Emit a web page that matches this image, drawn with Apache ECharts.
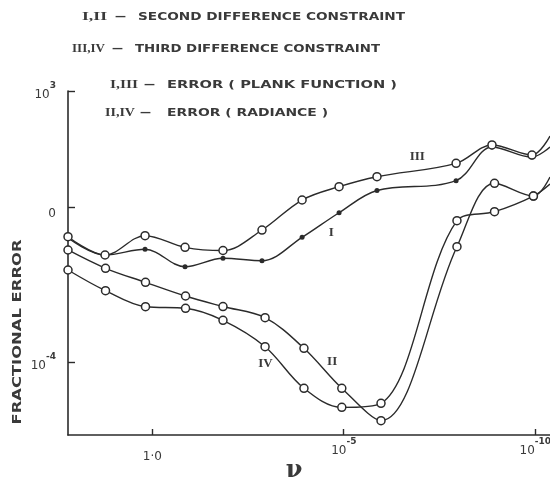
<!DOCTYPE html>
<html><head><meta charset="utf-8">
<script src="https://cdn.jsdelivr.net/npm/echarts@6/dist/echarts.min.js"></script>
<style>html,body{margin:0;padding:0;background:#fff}#c{width:550px;height:486px}</style>
</head><body><div id="c"></div>
<script>
// frequency (log scale, decreasing to the right)
const xPlank    = [158.5, 17.1, 1.54, 0.139, 0.0142, 1.36e-3, 1.22e-4, 1.32e-5, 1.35e-6, 1.16e-8, 1.34e-9, 1.21e-10, 4.09e-11];
const xRadiance = [158.5, 16.6, 1.50, 0.135, 0.0142, 1.13e-3, 1.09e-4, 1.12e-5, 1.06e-6, 1.10e-8, 1.15e-9, 1.11e-10, 4.09e-11];
// fractional error
const curveI   = [0.161, 0.0587, 0.0824, 0.0293, 0.0483, 0.0419, 0.168, 0.724, 2.71, 4.85, 35.9, 19.8, 35.9];
const curveIII = [0.174, 0.0587, 0.185, 0.0927, 0.0767, 0.259, 1.54, 3.40, 6.15, 13.6, 40.5, 22.3, 69.0];
const curveII  = [0.0791, 0.0267, 0.0116, 0.00514, 0.00275, 0.00142, 2.30e-4, 2.14e-5, 3.12e-6, 0.0962, 4.16, 1.95, 6.04];
const curveIV  = [0.0241, 0.00705, 0.00272, 0.00248, 0.00121, 2.53e-4, 2.14e-5, 6.90e-6, 8.77e-6, 0.451, 0.769, 1.95, 3.99];
// ticks
const xTicks = [1, 1e-5, 1e-10];
const xTickLabels = ['1·0', '10|-5', '10|-10'];
const yTicks = [1000, 1, 1e-4];
const yTickLabels = ['10|3', '0', '10|-4'];
// curve labels
const curveNames = ['III', 'I', 'IV', 'II'];
const curveLabelX = [1.2e-7, 2.1e-5, 1.1e-3, 2.0e-5];
const curveLabelY = [19.8, 0.217, 9.06e-5, 1.02e-4];
// header text
const headNums = ['I,II', 'III,IV', 'I,III', 'II,IV'];
const headTexts = ['SECOND DIFFERENCE CONSTRAINT', 'THIRD DIFFERENCE CONSTRAINT', 'ERROR ( PLANK FUNCTION )', 'ERROR ( RADIANCE )'];
const yName = 'FRACTIONAL ERROR';
const xName = 'ν';

const INK = '#2b2b2b';
const TXT = '#3a3a3a';
const chart = echarts.init(document.getElementById('c'));

function mk(xs, ys) {
  return xs.map((x, i) => i === xs.length - 1 ? {value: [x, ys[i]], symbol: 'none'} : [x, ys[i]]);
}
function fmt(labels, ticks) {
  return function (v) {
    let k = 0, best = 1e9;
    ticks.forEach((t, i) => { const d = Math.abs(Math.log10(t) - Math.log10(v)); if (d < best) { best = d; k = i; } });
    const s = labels[k];
    if (s.indexOf('|') >= 0) { const p = s.split('|'); return '{z| }{b|' + p[0] + '}{s|' + p[1] + '}'; }
    return '{z2| }{b|' + s + '}';
  };
}
const rich = {
  z: {fontSize: 1, lineHeight: 20},
  z2: {fontSize: 1, lineHeight: 26},
  b: {fontSize: 12, fontFamily: 'DejaVu Sans', color: TXT, lineHeight: 12, verticalAlign: 'bottom'},
  s: {fontSize: 9, fontWeight: 'bold', fontFamily: 'DejaVu Sans', color: TXT, lineHeight: 10, verticalAlign: 'top'}
};
const lineSeries = (name, xs, ys, filled) => ({
  name, type: 'line', smooth: 0.35, data: mk(xs, ys),
  symbol: 'circle', symbolSize: filled ? 5 : 8,
  itemStyle: filled ? {color: INK} : {color: '#fff', borderColor: INK, borderWidth: 1.5},
  lineStyle: {color: INK, width: 1.4}, emphasis: {disabled: true}
});

chart.setOption({
  animation: false,
  backgroundColor: '#fff',
  grid: {left: 68, right: 0, top: 91, bottom: 51, containLabel: false, outerBoundsMode: 'none'},
  xAxis: {
    type: 'log', logBase: 10, inverse: true, min: 4.09e-11, max: 158.5,
    axisLine: {lineStyle: {color: INK, width: 1.6}},
    axisTick: {inside: true, length: 6, customValues: xTicks, lineStyle: {color: INK, width: 1.4}},
    axisLabel: {customValues: xTicks, margin: 2, formatter: fmt(xTickLabels, xTicks), rich},
    splitLine: {show: false}, minorTick: {show: false}
  },
  yAxis: {
    type: 'log', logBase: 10, min: 1.334e-6, max: 1000,
    axisLine: {show: true, lineStyle: {color: INK, width: 1.6}},
    axisTick: {show: true, inside: true, length: 7, customValues: yTicks, lineStyle: {color: INK, width: 1.4}},
    axisLabel: {customValues: yTicks, margin: 12, formatter: fmt(yTickLabels, yTicks), rich},
    splitLine: {show: false}, minorTick: {show: false}
  },
  series: [
    lineSeries('I', xPlank, curveI, true),
    lineSeries('III', xPlank, curveIII, false),
    lineSeries('II', xRadiance, curveII, false),
    lineSeries('IV', xRadiance, curveIV, false)
  ]
});

// text annotations
const cv = document.createElement('canvas').getContext('2d');
function w(str, font) { cv.font = font; return cv.measureText(str).width; }
const numFont = 'bold 13px "Liberation Serif"';
const wordFont = 'bold 11px "DejaVu Sans"';
const headPos = [ // [numX, numEnd, dashX, wordsX, wordsEnd, y]
  [82, 107, 115, 138, 405, 17],
  [72, 105, 112, 135, 380, 49],
  [110, 138, 144, 167, 397, 85],
  [105, 135, 140, 167, 328, 113]
];
const g = [];
headPos.forEach((p, i) => {
  g.push({type: 'text', x: p[0], y: p[5], scaleX: (p[1] - p[0]) / w(headNums[i], numFont),
    style: {text: headNums[i], font: numFont, fill: TXT, textVerticalAlign: 'middle'}});
  g.push({type: 'text', x: p[2], y: p[5],
    style: {text: '—', font: wordFont, fill: TXT, textVerticalAlign: 'middle'}});
  g.push({type: 'text', x: p[3], y: p[5], scaleX: (p[4] - p[3]) / w(headTexts[i], wordFont),
    style: {text: headTexts[i], font: wordFont, fill: TXT, textVerticalAlign: 'middle'}});
});
const yFont = 'bold 12px "DejaVu Sans"';
g.push({type: 'text', x: 18, y: 332, rotation: Math.PI / 2, scaleX: 185 / w(yName, yFont),
  style: {text: yName, font: yFont, fill: TXT, textAlign: 'center', textVerticalAlign: 'middle'}});
g.push({type: 'text', x: 294, y: 471,
  style: {text: xName, font: 'bold 24px "DejaVu Serif"', fill: TXT, textAlign: 'center', textVerticalAlign: 'middle'}});
curveNames.forEach((n, i) => {
  const p = chart.convertToPixel({gridIndex: 0}, [curveLabelX[i], curveLabelY[i]]);
  g.push({type: 'text', x: p[0], y: p[1],
    style: {text: n, font: 'bold 13px "Liberation Serif"', fill: TXT, textAlign: 'center', textVerticalAlign: 'middle'}});
});
chart.setOption({graphic: g});
</script></body></html>
